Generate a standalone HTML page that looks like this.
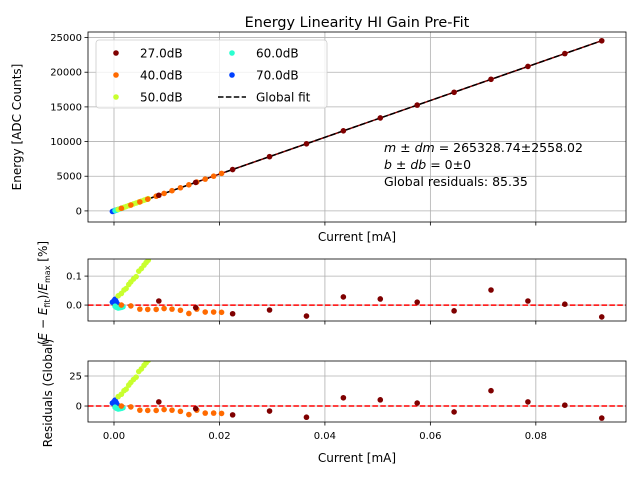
<!DOCTYPE html>
<html><head><meta charset="utf-8"><style>
body{margin:0;background:#fff}
svg{display:block;font-family:"DejaVu Sans","Liberation Sans",sans-serif}
</style></head><body>
<svg id="c" width="640" height="480" xmlns="http://www.w3.org/2000/svg"></svg>
<script>
const seriesNames=["27.0dB","40.0dB","50.0dB","60.0dB","70.0dB"];
const seriesColors=["#7f0000","#ff6a00","#c8ff2e","#2affd0","#0040ff"];
const cur27=[0.0085,0.0155,0.0225,0.0295,0.0365,0.0435,0.0505,0.0575,0.0645,0.0715,0.0785,0.0855,0.0925];
const pct27=[0.014,-0.009,-0.03,-0.017,-0.038,0.028,0.021,0.01,-0.02,0.052,0.014,0.003,-0.041];
const cur40=[0.0014,0.0032,0.0049,0.0064,0.008,0.0095,0.011,0.0126,0.0142,0.0157,0.0173,0.0189,0.0204];
const pct40=[0,-0.003,-0.014,-0.015,-0.015,-0.012,-0.014,-0.018,-0.029,-0.014,-0.024,-0.024,-0.025];
const cur50=[0.0008,0.0014,0.0019,0.0023,0.0028,0.0032,0.0037,0.0042,0.0047,0.0052,0.0057,0.0061,0.0065];
const pct50=[0.032,0.04,0.052,0.057,0.071,0.08,0.09,0.098,0.117,0.126,0.138,0.147,0.155];
const cur60=[0.0002,0.0005,0.0008,0.0011,0.0014,0.0017];
const pct60=[-0.004,-0.008,-0.01,-0.009,-0.008,-0.006];
const cur70=[-0.0003,0,0.0002,0.0004,0.0006];
const pct70=[0.01,0.015,0.02,0.012,0.005];
const slope=265328.74, eMax=24542;
const xTicks=[0,0.02,0.04,0.06,0.08];
const xTickLabels=["0.00","0.02","0.04","0.06","0.08"];
const eTicks=[0,5000,10000,15000,20000,25000];
const pTicks=[0,0.1];
const rTicks=[0,25];

const svg=document.getElementById('c');const NS="http://www.w3.org/2000/svg";
function el(t,a,p){const e=document.createElementNS(NS,t);for(const k in a)e.setAttribute(k,a[k]);(p||svg).appendChild(e);return e;}
const X0=88,X1=626,xmin=-0.00493,xmax=0.0971;
const xs=v=>X0+(v-xmin)/(xmax-xmin)*(X1-X0);
function ys(top,bot,lo,hi){return v=>bot-(v-lo)/(hi-lo)*(bot-top);}
const panels=[
 {name:'energy-panel',top:32,bot:222,lo:-1600,hi:25800,ticks:eTicks,lab:v=>String(v)},
 {name:'percent-residual-panel',top:259,bot:321,lo:-0.055,hi:0.159,ticks:pTicks,lab:v=>v.toFixed(1)},
 {name:'global-residual-panel',top:361,bot:422,lo:-13.3,hi:37.5,ticks:rTicks,lab:v=>String(v)}];
const curs=[cur27,cur40,cur50,cur60,cur70],pcts=[pct27,pct40,pct50,pct60,pct70];
panels.forEach((P,pi)=>{
 const y=ys(P.top,P.bot,P.lo,P.hi);
 const g=el('g',{});
 
 
 const cp='cp'+pi;const d=el('clipPath',{id:cp},g);el('rect',{x:X0,y:P.top,width:X1-X0,height:P.bot-P.top},d);
 xTicks.forEach((t,i)=>{const x=xs(t);
  const gl=el('line',{x1:x,x2:x,y1:P.top,y2:P.bot,stroke:'#b0b0b0','stroke-width':0.8},g);
  
  
  el('line',{x1:x,x2:x,y1:P.bot,y2:P.bot+3.5,stroke:'#000','stroke-width':0.8},g);
  if(pi==2){const tx=el('text',{x:x,y:P.bot+17,'font-size':10,'text-anchor':'middle'},g);tx.textContent=xTickLabels[i];
   
   }
 });
 P.ticks.forEach(t=>{const yy=y(t);
  el('line',{x1:X0,x2:X1,y1:yy,y2:yy,stroke:'#b0b0b0','stroke-width':0.8},g);
  el('line',{x1:X0-3.5,x2:X0,y1:yy,y2:yy,stroke:'#000','stroke-width':0.8},g);
  const tx=el('text',{x:X0-6,y:yy+3.5,'font-size':10,'text-anchor':'end'},g);tx.textContent=P.lab(t);
  
  
 });
 const pg=el('g',{'clip-path':'url(#'+cp+')'},g);
 if(pi==0){
  const a=0,b=cur27[cur27.length-1];
  el('line',{x1:xs(a),y1:y(slope*a),x2:xs(b),y2:y(slope*b),stroke:'#7f0000','stroke-width':1.5},pg);
  const fl=el('line',{x1:xs(a),y1:y(slope*a),x2:xs(b),y2:y(slope*b),stroke:'#000','stroke-width':1.5,'stroke-dasharray':'5.5,2.4'},pg);
  
  
 } else {
  const zl=el('line',{x1:X0,x2:X1,y1:y(0),y2:y(0),stroke:'#ff0000','stroke-width':1.5,'stroke-dasharray':'5.5,2.4'},pg);
  
  
 }
 for(let s=4;s>=0;s--){
  curs[s].forEach((c,i)=>{const p=pcts[s][i];
   const v=pi==0?slope*c+p/100*eMax:(pi==1?p:p/100*eMax);
   const m=el('circle',{cx:xs(c),cy:y(v),r:2.8,fill:seriesColors[s]},pg);
   
   
  });
 }
 el('rect',{x:X0,y:P.top,width:X1-X0,height:P.bot-P.top,fill:'none',stroke:'#000','stroke-width':0.8},g);
});
function txt(s,a,name){const t=el('text',a);t.textContent=s;return t;}
txt('Energy Linearity HI Gain Pre-Fit',{x:357,y:27,'font-size':14.4,'text-anchor':'middle'},'chart-title');
txt('Current [mA]',{x:357,y:241,'font-size':12,'text-anchor':'middle'},'x-axis-title-top');
txt('Current [mA]',{x:357,y:462,'font-size':12,'text-anchor':'middle'},'x-axis-title');
txt('Energy [ADC Counts]',{x:0,y:0,'font-size':12,'text-anchor':'middle',transform:'translate(21,127) rotate(-90)'},'y-axis-title');
const yl=el('text',{'font-size':12,'text-anchor':'middle',transform:'translate(47,293) rotate(-90)'});


yl.innerHTML='(<tspan font-style="italic">E</tspan> − <tspan font-style="italic">E</tspan><tspan font-size="8" dy="3">fit</tspan><tspan dy="-3">)/</tspan><tspan font-style="italic">E</tspan><tspan font-size="8" dy="3">max</tspan><tspan dy="-3"> [%]</tspan>';
txt('Residuals (Global)',{x:0,y:0,'font-size':12,'text-anchor':'middle',transform:'translate(52,393) rotate(-90)'},'global-residual-axis-title');
const an=el('text',{x:384,y:152,'font-size':12.5});


an.innerHTML='<tspan font-style="italic">m</tspan> ± <tspan font-style="italic">dm</tspan> = 265328.74±2558.02<tspan x="384" dy="17"><tspan font-style="italic">b</tspan> ± <tspan font-style="italic">db</tspan> = 0±0</tspan><tspan x="384" dy="17">Global residuals: 85.35</tspan>';
const lg=el('g',{});


el('rect',{x:96,y:40,width:231,height:68,rx:3,fill:'#fff','fill-opacity':0.8,stroke:'#ccc','stroke-width':0.8},lg);
const ents=[[0,0],[0,1],[0,2],[1,0],[1,1]];
ents.forEach((e,i)=>{const cx=e[0]?232:116,cy=53+e[1]*22;
 const ge=el('g',{},lg);
 
 
 el('circle',{cx:cx,cy:cy,r:2.8,fill:seriesColors[i]},ge);
 const t=el('text',{x:cx+24,y:cy+4.5,'font-size':12},ge);t.textContent=seriesNames[i];});
const gf=el('g',{},lg);


el('line',{x1:218,x2:246,y1:97,y2:97,stroke:'#000','stroke-width':1.5,'stroke-dasharray':'5.5,2.4'},gf);
const gt=el('text',{x:256,y:101.5,'font-size':12},gf);gt.textContent='Global fit';
</script>
</body></html>
